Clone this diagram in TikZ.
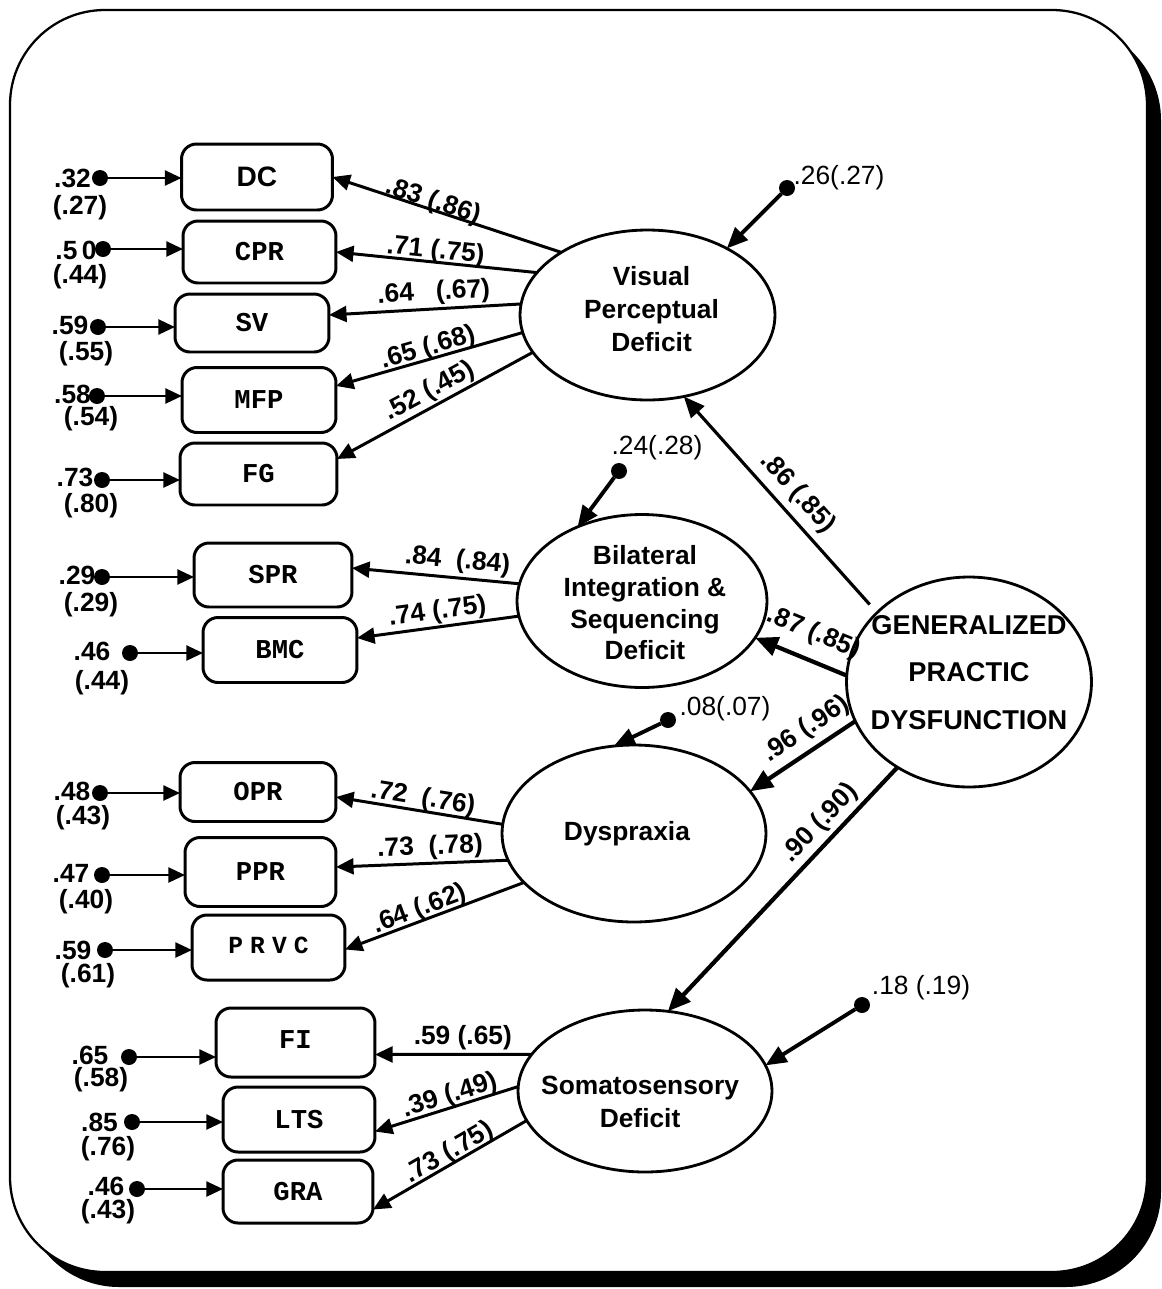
\documentclass[tikz,border=0pt]{standalone}
\usepackage{fontspec}
\setmainfont{Liberation Sans}
\setmonofont{Liberation Mono}
\usetikzlibrary{shapes.geometric,arrows.meta,calc}
\begin{document}
\begin{tikzpicture}[x=0.02cm,y=-0.02cm,
  every node/.style={inner sep=0pt, outer sep=0pt},
  num/.style={font=\fontsize{15}{17}\selectfont\bfseries},
  numr/.style={font=\fontsize{15}{17}\selectfont},
  obs/.style={draw, line width=1.7pt, rounded corners=0.3cm, font=\fontsize{15.5}{17}\selectfont\ttfamily\bfseries},
  lat/.style={draw, ellipse, line width=1.6pt},
  lt/.style={font=\fontsize{15}{19}\selectfont\bfseries, align=center},
  err/.style={circle, fill, minimum size=0.32cm},
  ld1/.style={line width=1.7pt, -{Triangle[length=10pt,width=9pt]}},
  ld2/.style={line width=1.8pt, -{Triangle[length=12pt,width=10pt]}},
  ld3/.style={line width=2.4pt, -{Triangle[length=13pt,width=11pt]}},
  ld4/.style={line width=2.2pt, -{Triangle[length=12pt,width=10pt]}},
  ea/.style={line width=1.5pt, -{Triangle[length=9.5pt,width=8.5pt]}},
  lb/.style={sloped, font=\fontsize{15}{17}\selectfont\bfseries, inner sep=0pt}
]
\useasboundingbox (0,0) rectangle (1161,1289);
% frame with shadow
\fill[rounded corners=1.9cm] (24,25) rectangle (1161,1287);
\draw[fill=white, line width=1.3pt, rounded corners=1.9cm] (10,10) rectangle (1147,1272);

% observed variables
\node[obs, minimum width=3.02cm, minimum height=1.32cm, font=\fontsize{16}{18}\selectfont\bfseries] (DC) at (257,177) {DC};
\node[obs, minimum width=3.06cm, minimum height=1.24cm] (CPR) at (259.5,252) {CPR};
\node[obs, minimum width=3.08cm, minimum height=1.16cm] (SV) at (252,323) {SV};
\node[obs, minimum width=3.08cm, minimum height=1.30cm] (MFP) at (259,400) {MFP};
\node[obs, minimum width=3.14cm, minimum height=1.24cm] (FG) at (258.5,474) {FG};
\node[obs, minimum width=3.16cm, minimum height=1.28cm] (SPR) at (273,575) {SPR};
\node[obs, minimum width=3.08cm, minimum height=1.30cm] (BMC) at (280,650) {\raisebox{-3pt}{BMC}};
\node[obs, minimum width=3.12cm, minimum height=1.18cm] (OPR) at (258,792) {OPR};
\node[obs, minimum width=3.02cm, minimum height=1.38cm] (PPR) at (260.5,872) {PPR};
\node[obs, minimum width=3.06cm, minimum height=1.30cm, font=\fontsize{14}{16}\selectfont\ttfamily\bfseries] (PRVC) at (268.5,947.5) {\raisebox{3pt}{P\hspace{4pt}R\hspace{4pt}V\hspace{4pt}C}\hspace{12pt}};
\node[obs, minimum width=3.18cm, minimum height=1.38cm] (FI) at (295.5,1042.5) {\raisebox{3pt}{FI}\hspace{6pt}};
\node[obs, minimum width=3.04cm, minimum height=1.30cm] (LTS) at (299,1119.5) {LTS};
\node[obs, minimum width=3.00cm, minimum height=1.26cm] (GRA) at (298,1191.5) {GRA};

% latent variables
\node[lat, minimum width=5.1cm, minimum height=3.4cm,
  label={[lt, xshift=2.3pt, yshift=3.4pt]center:{Visual\\Perceptual\\Deficit}}] (VPD) at (647.5,315) {};
\node[lat, minimum width=5.0cm, minimum height=3.46cm,
  label={[lt, font=\fontsize{15}{18}\selectfont\bfseries, xshift=1.7pt, yshift=-1.1pt]center:{Bilateral\\Integration \&\\Sequencing\\Deficit}}] (BISD) at (642,601) {};
\node[lat, minimum width=4.9cm, minimum height=4.2cm,
  label={[lt, font=\fontsize{15.5}{27}\selectfont\bfseries, yshift=5.4pt]center:{GENERALIZED\\PRACTIC\\DYSFUNCTION}}] (GPD) at (969,682) {};
\node[lat, minimum width=5.28cm, minimum height=3.54cm,
  label={[lt, xshift=-4pt]center:{Dyspraxia}}] (DYS) at (634,833.5) {};
\node[lat, minimum width=5.08cm, minimum height=3.24cm,
  label={[lt, xshift=-2.8pt, yshift=-6.2pt]center:{Somatosensory\\Deficit}}] (SOM) at (645,1091) {};

% error terms of observed variables
\node[err] (eDC) at (100,178) {};
\node[err] (eCPR) at (103,249) {};
\node[err] (eSV) at (98,327) {};
\node[err] (eMFP) at (97,396) {};
\node[err] (eFG) at (102,480) {};
\node[err] (eSPR) at (102,577) {};
\node[err] (eBMC) at (130,653) {};
\node[err] (eOPR) at (100,793) {};
\node[err] (ePPR) at (102,875) {};
\node[err] (ePRVC) at (105,950) {};
\node[err] (eFI) at (129,1057) {};
\node[err] (eLTS) at (132,1122) {};
\node[err] (eGRA) at (137,1189) {};

\node[num] (tDCa) at (72.5,178) {.32};
\node[num] (tDCb) at (80,208) {(.27)};
\node[num] (tCPRa) at (76,250) {.5\,0};
\node[num] (tCPRb) at (80,277) {(.44)};
\node[num] (tSVa) at (70,325) {.59};
\node[num] (tSVb) at (86,354) {(.55)};
\node[num] (tMFPa) at (72.5,394) {.58};
\node[num] (tMFPb) at (91,419) {(.54)};
\node[num] (tFGa) at (75,477) {.73};
\node[num] (tFGb) at (91,506) {(.80)};
\node[num] (tSPRa) at (77,575) {.29};
\node[num] (tSPRb) at (91,605) {(.29)};
\node[num] (tBMCa) at (92,651) {.46};
\node[num] (tBMCb) at (102,683) {(.44)};
\node[num] (tOPRa) at (72,791) {.48};
\node[num] (tOPRb) at (83,818) {(.43)};
\node[num] (tPPRa) at (71,873) {.47};
\node[num] (tPPRb) at (86,902) {(.40)};
\node[num] (tPRVCa) at (73,950) {.59};
\node[num] (tPRVCb) at (88,976) {(.61)};
\node[num] (tFIa) at (90,1055) {.65};
\node[num] (tFIb) at (101,1080) {(.58)};
\node[num] (tLTSa) at (99.5,1122) {.85};
\node[num] (tLTSb) at (108,1149) {(.76)};
\node[num] (tGRAa) at (106,1186) {.46};
\node[num] (tGRAb) at (108,1212) {(.43)};

\draw[ea] (eDC) -- (eDC -| DC.west);
\draw[ea] (eCPR) -- (eCPR -| CPR.west);
\draw[ea] (eSV) -- (eSV -| SV.west);
\draw[ea] (eMFP) -- (eMFP -| MFP.west);
\draw[ea] (eFG) -- (eFG -| FG.west);
\draw[ea] (eSPR) -- (eSPR -| SPR.west);
\draw[ea] (eBMC) -- (eBMC -| BMC.west);
\draw[ea] (eOPR) -- (eOPR -| OPR.west);
\draw[ea] (ePPR) -- (ePPR -| PPR.west);
\draw[ea] (ePRVC) -- (ePRVC -| PRVC.west);
\draw[ea] (eFI) -- (eFI -| FI.west);
\draw[ea] (eLTS) -- (eLTS -| LTS.west);
\draw[ea] (eGRA) -- (eGRA -| GRA.west);

% error terms of latent variables
\node[err] (eVPD) at (787,188) {};
\node[numr] (tVPD) at (839,178) {.26(.27)};
\node[err] (eBISD) at (619,471) {};
\node[numr] (tBISD) at (657,448) {.24(.28)};
\node[err] (eDYS) at (668,720) {};
\node[numr] (tDYS) at (725,709) {.08(.07)};
\node[err] (eSOM) at (862,1005) {};
\node[numr] (tSOM) at (921,988) {.18 (.19)};

\draw[ld4] (eVPD) -- (VPD.40);
\draw[ld4] (eBISD) -- (BISD.131);
\draw[ld4] (eDYS) -- (DYS.103);
\draw[ld4] (eSOM) -- (SOM.12.5);

% loadings
\draw[ld1] (VPD.144) -- node[lb, pos=.57, above=-2.3pt]{.83 (.86)} (DC.east);
\draw[ld1] (VPD.159) -- node[lb, pos=.51, above=-0.9pt]{.71 (.75)} (CPR.east);
\draw[ld1] (VPD.175) -- node[lb, pos=.45, above=2pt]{.64\ \ \ (.67)} ($(SV.east)+(0,-8)$);
\draw[ld1] (VPD.188) -- node[lb, pos=.49, above=-0.9pt]{.65 (.68)} ($(MFP.east)+(0,-14)$);
\draw[ld1] (VPD.198) -- node[lb, pos=.49, above=1.6pt]{.52 (.45)} ($(FG.east)+(0,-15)$);
\draw[ld1] (BISD.172) -- node[lb, pos=.38, above=2.5pt]{.84\ \ (.84)} ($(SPR.east)+(0,-7)$);
\draw[ld1] (BISD.187) -- node[lb, pos=.49, above=1.6pt]{.74 (.75)} ($(BMC.east)+(0,-12)$);
\draw[ld1] (DYS.176) -- node[lb, pos=.49, above=-0.1pt]{.72\ \ (.76)} ($(OPR.east)+(0,5)$);
\draw[ld1] (DYS.192) -- node[lb, pos=.45, above=2pt]{.73\ \ (.78)} ($(PPR.east)+(0,-5)$);
\draw[ld1] (DYS.204) -- node[lb, pos=.56, above=-0.6pt]{.64 (.62)} ($(PRVC.east)+(0,2)$);
\draw[ld1] (SOM.162) -- node[lb, pos=.44, above=2.5pt]{.59 (.65)} ($(FI.east)+(0,12)$);
\draw[ld1] (SOM.178) -- node[lb, pos=.45, above=-0.5pt]{.39 (.49)} ($(LTS.east)+(0,12)$);
\draw[ld1] (SOM.194) -- node[lb, pos=.47, above=-0.9pt]{.73 (.75)} ($(GRA.east)+(0,18)$);

% structural paths
\draw[ld2, shorten <=0.22cm] (GPD.143) -- node[lb, pos=.49, above=4.6pt]{.86 (.85)} (VPD.294);
\draw[ld3] (GPD.177) -- node[lb, pos=.47, above=8.2pt]{.87 (.85)} (BISD.342);
\draw[ld3] (GPD.199) -- node[lb, pos=.36, above=4.6pt]{.96 (.96)} (DYS.20);
\draw[ld3] (GPD.230) -- node[lb, pos=.28, above=3.2pt]{.90 (.90)} (SOM.74);
\end{tikzpicture}
\end{document}
